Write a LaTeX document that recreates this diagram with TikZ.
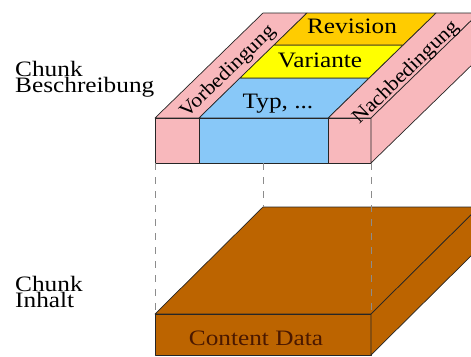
\documentclass[tikz,border=0pt]{standalone}
\usepackage{fontspec}
\setmainfont{Liberation Serif}
\usepackage{xcolor}
\definecolor{condBack}{HTML}{F8B8BC}
\definecolor{typBack} {HTML}{88C8F8}
\definecolor{varBack} {HTML}{FFFF00}
\definecolor{revBack} {HTML}{FFCC00}
\definecolor{dataBack}{HTML}{BC6400}
\definecolor{dataText}{HTML}{4A1800}
\usetikzlibrary{calc}
\newcommand{\widetext}[1]{\scalebox{1.15}[1]{#1}}
\tikzset{
    face/.style={draw=black!85, line width=0.7pt, line join=round},
    condface/.style={face, fill=condBack},
    typface/.style={face, fill=typBack},
    varface/.style={face, fill=varBack},
    revface/.style={face, fill=revBack},
    dataface/.style={face, fill=dataBack},
    chunktext/.style={font=\fontsize{22}{16}\selectfont, inner sep=0pt,
                      align=left, anchor=north west},
    fieldtext/.style={font=\fontsize{22}{24}\selectfont, inner sep=0pt,
                      anchor=base},
    condtext/.style={font=\fontsize{20}{22}\selectfont, inner sep=0pt,
                     rotate=44.2},
    guide/.style={draw=black!45, line width=0.8pt, dash pattern=on 7pt off 7pt},
}

\begin{document}
\begin{tikzpicture}[x=1pt, y=-1pt]
    \path[use as bounding box] (0,0) rectangle (471,356);
    \clip (0,0) rectangle (471,356);

    % Chunk Beschreibung: corners
    \coordinate (ftl) at (155,118);
    \coordinate (ftr) at (371,118);
    \coordinate (fbl) at (155,163);
    \coordinate (fbm) at (263,163);
    \coordinate (fbr) at (371,163);
    \coordinate (f1)  at (199,118);
    \coordinate (f2)  at (328,118);
    \coordinate (f1b) at (199,163);
    \coordinate (f2b) at (328,163);
    \coordinate (btl) at (263,13);
    \coordinate (b1)  at (307,13);
    \coordinate (b2)  at (436,13);
    \coordinate (btr) at (479,13);
    \coordinate (bbr) at (479,58);
    \coordinate (t1)  at (240,78);
    \coordinate (t2)  at (369,78);
    \coordinate (v1)  at (274,45);
    \coordinate (v2)  at (403,45);

    % Chunk Inhalt: corners
    \coordinate (ltl)  at (155,314);
    \coordinate (ltr)  at (371,314);
    \coordinate (lbl)  at (155,355);
    \coordinate (lbr)  at (371,355);
    \coordinate (lbtl) at (263,207);
    \coordinate (lbtr) at (479,207);
    \coordinate (lbbr) at (479,248);

    % lower slab
    \draw[dataface] (ltl) -- (ltr) -- (lbtr) -- (lbtl) -- cycle;
    \draw[dataface] (ltl) -- (ltr) -- (lbr) -- (lbl) -- cycle;
    \draw[dataface] (ltr) -- (lbtr) -- (lbbr) -- (lbr) -- cycle;

    % upper slab, top face
    \draw[condface] (ftl) -- (f1) -- (b1) -- (btl) -- cycle;
    \draw[condface] (f2) -- (ftr) -- (btr) -- (b2) -- cycle;
    \draw[typface] (f1) -- (f2) -- (t2) -- (t1) -- cycle;
    \draw[varface] (t1) -- (t2) -- (v2) -- (v1) -- cycle;
    \draw[revface] (v1) -- (v2) -- (b2) -- (b1) -- cycle;
    % upper slab, front and side
    \draw[condface] (ftl) -- (f1) -- (f1b) -- (fbl) -- cycle;
    \draw[typface] (f1) -- (f2) -- (f2b) -- (f1b) -- cycle;
    \draw[condface] (f2) -- (ftr) -- (fbr) -- (f2b) -- cycle;
    \draw[condface] (ftr) -- (btr) -- (bbr) -- (fbr) -- cycle;

    % guides between the slabs
    \draw[guide] (fbl) -- (ltl);
    \draw[guide] (fbm) -- (lbtl);
    \draw[guide] (fbr) -- (ltr);

    % texts
    \node[fieldtext] (rev) at (352,33) {\widetext{Revision}};
    \node[fieldtext] (var) at (320,67) {\widetext{Variante}};
    \node[fieldtext] (typ) at (278,108) {\widetext{Typ, ...}};
    \node[condtext] (vor) at (228,72) {\scalebox{1.1}[1]{Vorbedingung}};
    \node[condtext] (nach) at (406,73) {\scalebox{1.1}[1]{Nachbedingung}};
    \node[fieldtext, text=dataText] (data) at (256,345) {\widetext{Content Data}};
    \node[chunktext] (desc) at (15,61) {\widetext{Chunk}\\\widetext{Beschreibung}};
    \node[chunktext] (cont) at (15,276) {\widetext{Chunk}\\\widetext{Inhalt}};
\end{tikzpicture}
\end{document}
